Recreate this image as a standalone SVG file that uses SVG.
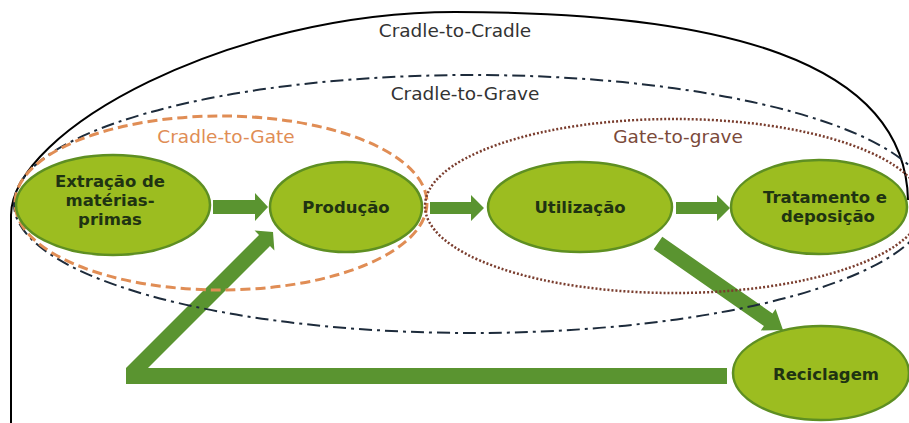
<svg xmlns="http://www.w3.org/2000/svg" width="909" height="423" viewBox="0 0 909 423">
<style>
.node{fill:#9cbd20;stroke:#5e8f22;stroke-width:2.5}
.nt{font-family:"DejaVu Sans",sans-serif;font-weight:bold;font-size:16.5px;fill:#1f3312;text-anchor:middle}
.lbl{font-family:"DejaVu Sans",sans-serif;font-size:18.5px;text-anchor:middle}
.arr{fill:#5a9430}
.b{fill:none}
</style>
<rect width="909" height="423" fill="#ffffff"/>
<g id="connectors">
<polygon class="arr" points="213,200 255,200 255,193 268,207 255,221 255,214 213,214"/>
<polygon class="arr" points="430,202 471,202 471,195 484,208 471,221 471,214 430,214"/>
<polygon class="arr" points="676,202 717,202 717,195 730,208 717,221 717,214 676,214"/>
<polygon class="arr" points="662.3,236.8 772.5,313.5 775.6,309 783,330 760.8,330.4 763.9,325.9 653.7,249.2"/>
<polygon class="arr" points="727,368 148,368 270,246 274.4,250.4 273,232 254.6,230.6 259,235 126,368 126,384 727,384"/>
</g>
<g id="boundaries">
<path class="b" d="M 11 423 L 11 215 C 12 130 230 12 455 12 C 720 12 905 60 908 200" stroke="#000" stroke-width="2"/>
<ellipse class="b" cx="472" cy="204" rx="458" ry="129" stroke="#1d2b3b" stroke-width="2" stroke-dasharray="13 5 3 5"/>
<ellipse class="b" cx="221" cy="203" rx="206" ry="87" stroke="#e08d55" stroke-width="3" stroke-dasharray="10 5"/>
<ellipse class="b" cx="674" cy="206" rx="249" ry="87" stroke="#7a3d2e" stroke-width="2.5" stroke-dasharray="2 2"/>
</g>
<g id="nodes">
<g id="extracao"><ellipse class="node" cx="113" cy="205" rx="97" ry="50"/>
<text class="nt" x="110" y="187">Extração de</text><text class="nt" x="110" y="206">matérias-</text><text class="nt" x="110" y="225">primas</text></g>
<g id="producao"><ellipse class="node" cx="346" cy="207" rx="76" ry="45"/><text class="nt" x="346" y="213">Produção</text></g>
<g id="utilizacao"><ellipse class="node" cx="580" cy="207" rx="92" ry="45"/><text class="nt" x="580" y="213">Utilização</text></g>
<g id="tratamento"><ellipse class="node" cx="819" cy="207" rx="88" ry="47"/><text class="nt" x="825" y="203">Tratamento e</text><text class="nt" x="828" y="222">deposição</text></g>
<g id="reciclagem"><ellipse class="node" cx="821" cy="373" rx="88" ry="47"/><text class="nt" x="826" y="380">Reciclagem</text></g>
</g>
<g id="labels">
<text class="lbl" x="455" y="37" fill="#333">Cradle-to-Cradle</text>
<text class="lbl" x="465" y="100" fill="#333">Cradle-to-Grave</text>
<text class="lbl" x="226" y="143" fill="#e08d55">Cradle-to-Gate</text>
<text class="lbl" x="678" y="143" fill="#7b4a3a">Gate-to-grave</text>
</g>
</svg>
